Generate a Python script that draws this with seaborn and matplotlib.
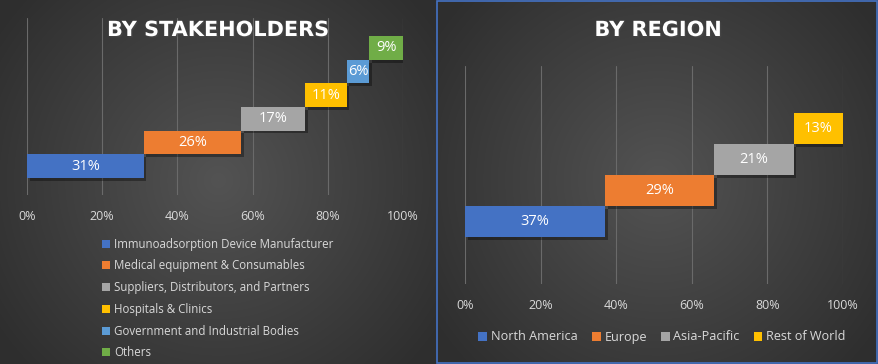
import numpy as np
import pandas as pd
import matplotlib
matplotlib.use("Agg")
import matplotlib.pyplot as plt
import matplotlib.patheffects as pe
from matplotlib.patches import Rectangle
import seaborn as sns

# data
stake_labels = ["Immunoadsorption Device Manufacturer", "Medical equipment & Consumables",
                "Suppliers, Distributors, and Partners", "Hospitals & Clinics",
                "Government and Industrial Bodies", "Others"]
stake_share = [0.31, 0.26, 0.17, 0.11, 0.06, 0.09]
stake_colors = ["#4472C4", "#ED7D31", "#A5A5A5", "#FFC000", "#5B9BD5", "#70AD47"]

region_labels = ["North America", "Europe", "Asia-Pacific", "Rest of World"]
region_share = [0.37, 0.29, 0.21, 0.13]
region_colors = ["#4472C4", "#ED7D31", "#A5A5A5", "#FFC000"]

ticks = [0, 0.2, 0.4, 0.6, 0.8, 1.0]
tick_labels = ["0%", "20%", "40%", "60%", "80%", "100%"]

sns.set_theme(style="white")
plt.rcParams["font.family"] = ["Open Sans", "DejaVu Sans"]

fig = plt.figure(figsize=(8.79, 3.64), dpi=100)

# dark radial background, one glow per panel
bg = fig.add_axes([0, 0, 1, 1], zorder=-10)
W, H = 879, 364
xx, yy = np.meshgrid(np.arange(W), np.arange(H))
grad = np.zeros((H, W))
for cx, x0, x1 in [(218, 0, 437), (658, 437, W)]:
    r = np.sqrt(((xx - cx) / 270.0) ** 2 + ((yy - 180) / 270.0) ** 2)
    m = (xx >= x0) & (xx < x1)
    grad[m] = np.clip(r[m], 0, 1)
lo, hi = np.array([0x53, 0x53, 0x53]) / 255, np.array([0x2e, 0x2e, 0x2e]) / 255
img = lo[None, None, :] * (1 - grad[..., None]) + hi[None, None, :] * grad[..., None]
bg.imshow(img, aspect="auto", extent=[0, W, H, 0])
bg.set_xlim(0, W)
bg.set_ylim(H, 0)
bg.axis("off")
bg.add_patch(Rectangle((437, 1), 440.5, 361.5, fill=False, ec="#4472C4", lw=1.2))


def waterfall(ax, labels, shares, colors, ylim, fs):
    df = pd.DataFrame({"cat": labels, "share": shares})
    sns.barplot(data=df, x="share", y="cat", hue="cat", palette=colors, legend=False,
                orient="h", width=1.0, saturation=1, ax=ax)
    starts = np.concatenate([[0], np.cumsum(shares)[:-1]])
    for patch, st, v in zip(ax.patches, starts, shares):
        patch.set_x(st)
        patch.set_edgecolor("none")
        patch.set_path_effects([pe.SimplePatchShadow(offset=(2, -2), shadow_rgbFace="black", alpha=0.35),
                                pe.Normal()])
        ax.text(patch.get_x() + patch.get_width() / 2, patch.get_y() + patch.get_height() / 2,
                f"{round(v * 100)}%", color="white", ha="center", va="center", fontsize=fs)
    ax.set_facecolor("none")
    ax.set_xlim(0, 1)
    ax.set_ylim(*ylim)
    ax.set_xticks(ticks)
    ax.set_xticklabels(tick_labels, color="#d9d9d9", fontsize=9)
    ax.tick_params(axis="x", length=0, pad=10.5)
    ax.set_yticks([])
    ax.set_xlabel("")
    ax.set_ylabel("")
    ax.grid(axis="x", color="#6a6a6a", lw=0.8)
    ax.set_axisbelow(True)
    for s in ax.spines.values():
        s.set_visible(False)


ax1 = fig.add_axes([0.0307, 0.4643, 0.4278, 0.4863])
waterfall(ax1, stake_labels, stake_share, stake_colors, (-1.22, 6.27), 10.5)
ax2 = fig.add_axes([0.5294, 0.2198, 0.4294, 0.5989])
waterfall(ax2, region_labels, region_share, region_colors, (-2.02, 5.02), 10.5)

shadow = [pe.withSimplePatchShadow(offset=(1, -1), alpha=0.5)]
fig.text(218 / W, 1 - 30 / H, "BY STAKEHOLDERS", color="white", fontsize=15, fontweight="bold",
         family="DejaVu Sans", ha="center", va="center", path_effects=shadow)
fig.text(658 / W, 1 - 30 / H, "BY REGION", color="white", fontsize=15, fontweight="bold",
         family="DejaVu Sans", ha="center", va="center", path_effects=shadow)

leg1 = ax1.legend(handles=ax1.patches, labels=stake_labels, loc="upper left",
                  bbox_to_anchor=(97 / W, 1 - 233 / H), bbox_transform=fig.transFigure,
                  frameon=False, fontsize=8.3, labelcolor="#d9d9d9", handlelength=0.7,
                  handleheight=0.7, handletextpad=0.4, labelspacing=0.76, borderaxespad=0)
leg2 = ax2.legend(handles=ax2.patches, labels=region_labels, loc="center",
                  bbox_to_anchor=(662 / W, 1 - 337 / H), bbox_transform=fig.transFigure,
                  ncol=4, frameon=False, fontsize=9.1, labelcolor="#d9d9d9", handlelength=0.7,
                  handleheight=0.7, handletextpad=0.3, columnspacing=1.1, borderaxespad=0)
for leg in (leg1, leg2):
    for h in leg.legend_handles:
        h.set_path_effects([])

fig.savefig("out.png", dpi=100)
